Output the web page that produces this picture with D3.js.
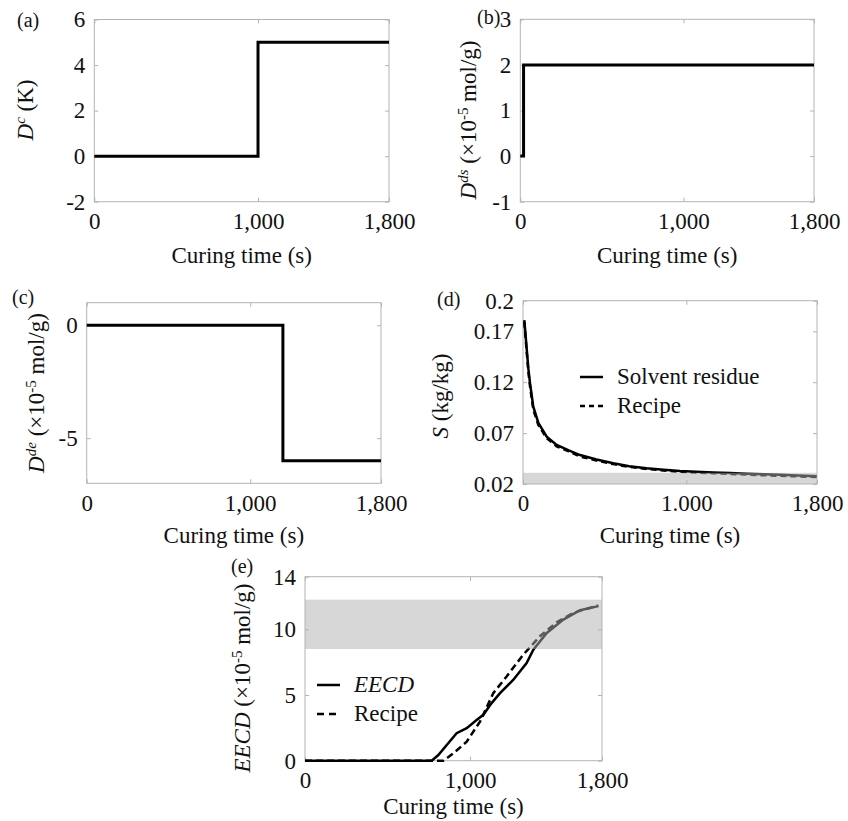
<!DOCTYPE html>
<html>
<head>
<meta charset="utf-8">
<script src="https://cdn.jsdelivr.net/npm/d3@7"></script>
<style>
  body { margin: 0; background: #fff; }
  svg { display: block; font-family: "Liberation Serif", "Times New Roman", serif; }
</style>
</head>
<body>
<script>
// ---- data ----
const xTicks = [0, 1000, 1800]
const xTickLabels = ['0', '1,000', '1,800']
const dXTickLabels = ['0', '1.000', '1,800']

// (a) D^c (K)
const aTime = [0, 1000, 1800]
const aValue = [0, 5, 5]
const aTicks = [-2, 0, 2, 4, 6]

// (b) D^ds
const bTime = [0, 20, 1800]
const bValue = [0, 2, 2]
const bTicks = [-1, 0, 1, 2, 3]

// (c) D^de
const cTime = [0, 1200, 1800]
const cValue = [0, -6, -6]
const cTicks = [-5, 0]

// (d) solvent residue
const dTime = [8, 15, 23, 33, 43, 63, 94, 145, 206, 280, 349, 450, 553, 650, 757, 860, 961, 1060, 1165, 1270, 1370, 1470, 1574, 1680, 1798]
const dSolvent = [0.181, 0.168, 0.152, 0.133, 0.119, 0.096, 0.080, 0.0664, 0.0583, 0.053, 0.0484, 0.044, 0.0403, 0.0375, 0.0354, 0.034, 0.0327, 0.032, 0.0314, 0.0307, 0.030, 0.0295, 0.029, 0.0284, 0.0277]
const dRecipe = [0.179, 0.165, 0.149, 0.130, 0.116, 0.093, 0.078, 0.065, 0.057, 0.052, 0.047, 0.043, 0.0395, 0.0368, 0.0348, 0.0333, 0.032, 0.0313, 0.0306, 0.0299, 0.0292, 0.0286, 0.028, 0.0275, 0.0268]
const dTicks = [0.02, 0.07, 0.12, 0.17, 0.2]
const dBand = [0.02, 0.031]

// (e) EECD
const eTime = [0, 768, 808, 859, 919, 980, 1040, 1081, 1131, 1182, 1263, 1343, 1384, 1465, 1566, 1667, 1778]
const eEecd = [0, 0, 0.43, 1.2, 2.09, 2.47, 3.1, 3.49, 4.38, 5.14, 6.16, 7.43, 8.45, 9.72, 10.74, 11.45, 11.76]
const eRecipeTime = [0, 838, 899, 980, 1061, 1141, 1222, 1323, 1424, 1525, 1626, 1778]
const eRecipe = [0, 0, 0.56, 1.45, 2.98, 5.14, 6.41, 8.07, 9.47, 10.53, 11.25, 11.81]
const eTicks = [0, 5, 10, 14]
const eBand = [8.5, 12.25]

const svg = d3.select('body').append('svg')
  .attr('width', 848)
  .attr('height', 821)

const frameColor = '#b4b4b4'

function makePanel (box, yDomain, yTicks, tickLabels) {
  const x = d3.scaleLinear().domain([0, 1800]).range([box.left, box.right])
  const y = d3.scaleLinear().domain(yDomain).range([box.bottom, box.top])
  const g = svg.append('g')

  g.append('rect')
    .attr('x', box.left)
    .attr('y', box.top)
    .attr('width', box.right - box.left)
    .attr('height', box.bottom - box.top)
    .attr('fill', 'none')
    .attr('stroke', frameColor)

  const axes = [
    [d3.axisBottom(x).tickValues(xTicks).tickFormat((d, i) => tickLabels[i]).tickPadding(11), `translate(0,${box.bottom})`],
    [d3.axisTop(x).tickValues(xTicks).tickFormat(''), `translate(0,${box.top})`],
    [d3.axisLeft(y).tickValues(yTicks).tickFormat(d => String(d)).tickPadding(9), `translate(${box.left},0)`],
    [d3.axisRight(y).tickValues(yTicks).tickFormat(''), `translate(${box.right},0)`]
  ]
  axes.forEach(([axis, tr]) => {
    const a = g.append('g')
      .attr('transform', tr)
      .call(axis.tickSizeInner(-4).tickSizeOuter(0))
    a.select('.domain').remove()
    a.selectAll('line').attr('stroke', frameColor)
    a.selectAll('text')
      .attr('font-family', '"Liberation Serif", "Times New Roman", serif')
      .attr('font-size', 23)
      .attr('fill', '#111')
  })
  return { g, x, y }
}

function addLine (p, xs, ys, opts) {
  const line = d3.line()
    .x((d, i) => p.x(xs[i]))
    .y(d => p.y(d))
  if (opts.step) line.curve(d3.curveStepAfter)
  p.g.append('path')
    .datum(ys)
    .attr('d', line)
    .attr('fill', 'none')
    .attr('stroke', '#000')
    .attr('stroke-width', opts.width || 3)
    .attr('stroke-dasharray', opts.dash || null)
}

function addBand (p, band) {
  p.g.append('rect')
    .attr('x', p.x(0))
    .attr('width', p.x(1800) - p.x(0))
    .attr('y', p.y(band[1]))
    .attr('height', p.y(band[0]) - p.y(band[1]))
    .attr('fill', 'rgb(176,176,176)')
    .attr('fill-opacity', 0.5)
}

function xTitle (p, baseline) {
  svg.append('text')
    .attr('x', (p.x(0) + p.x(1800)) / 2)
    .attr('y', baseline)
    .attr('text-anchor', 'middle')
    .attr('font-size', 23)
    .attr('fill', '#111')
    .text('Curing time (s)')
}

function yTitle (x, y, parts) {
  const t = svg.append('text')
    .attr('transform', `translate(${x},${y}) rotate(-90)`)
    .attr('text-anchor', 'middle')
    .attr('font-size', 23)
    .attr('fill', '#111')
  let raised = false
  parts.forEach(pt => {
    const s = t.append('tspan').text(pt.t)
    if (pt.it) s.attr('font-style', 'italic')
    if (pt.sup && !raised) { s.attr('dy', -8).attr('font-size', 15); raised = true }
    else if (pt.sup) s.attr('font-size', 15)
    else if (raised) { s.attr('dy', 8); raised = false }
  })
}

function panelTag (x, y, label) {
  svg.append('text')
    .attr('x', x)
    .attr('y', y)
    .attr('font-size', 20)
    .attr('fill', '#111')
    .text(label)
}

function legend (p, x, y, items) {
  items.forEach((it, i) => {
    const yy = y + i * 29
    p.g.append('line')
      .attr('x1', x).attr('x2', x + 23)
      .attr('y1', yy).attr('y2', yy)
      .attr('stroke', '#000')
      .attr('stroke-width', 2.5)
      .attr('stroke-dasharray', it.dash || null)
    p.g.append('text')
      .attr('x', x + 37)
      .attr('y', yy + 7)
      .attr('font-size', 23)
      .attr('font-style', it.it ? 'italic' : null)
      .attr('fill', '#111')
      .text(it.label)
  })
}

// (a)
const pa = makePanel({ left: 94.3, right: 389, top: 19.5, bottom: 201.7 }, [-2, 6], aTicks, xTickLabels)
addLine(pa, aTime, aValue, { step: true })
xTitle(pa, 263)
yTitle(33, 110, [{ t: 'D', it: true }, { t: 'c', it: true, sup: true }, { t: ' (K)' }])
panelTag(17, 27, '(a)')

// (b)
const pb = makePanel({ left: 520.3, right: 814, top: 19.3, bottom: 201.7 }, [-1, 3], bTicks, xTickLabels)
addLine(pb, bTime, bValue, { step: true })
xTitle(pb, 263)
yTitle(476, 120, [{ t: 'D', it: true }, { t: 'ds', it: true, sup: true }, { t: ' (×10' }, { t: '-5', sup: true }, { t: ' mol/g)' }])
panelTag(477, 24, '(b)')

// (c)
const pc = makePanel({ left: 86.7, right: 381, top: 302.7, bottom: 483.3 }, [-7, 1], cTicks, xTickLabels)
addLine(pc, cTime, cValue, { step: true })
xTitle(pc, 543)
yTitle(44, 393, [{ t: 'D', it: true }, { t: 'de', it: true, sup: true }, { t: ' (×10' }, { t: '-5', sup: true }, { t: ' mol/g)' }])
panelTag(12, 304, '(c)')

// (d)
const pd = makePanel({ left: 523, right: 817, top: 300.7, bottom: 484 }, [0.02, 0.2], dTicks, dXTickLabels)
addLine(pd, dTime, dSolvent, { width: 2.5 })
addLine(pd, dTime, dRecipe, { width: 2.5, dash: '6,4' })
addBand(pd, dBand)
legend(pd, 580, 377, [{ label: 'Solvent residue' }, { label: 'Recipe', dash: '5,4' }])
xTitle(pd, 543)
yTitle(448, 396, [{ t: 'S', it: true }, { t: ' (kg/kg)' }])
panelTag(437, 306, '(d)')

// (e)
const pe = makePanel({ left: 305, right: 602, top: 576.7, bottom: 760.7 }, [0, 14], eTicks, xTickLabels)
addLine(pe, eTime, eEecd, { width: 2.5 })
addLine(pe, eRecipeTime, eRecipe, { width: 2.5, dash: '7,4' })
addBand(pe, eBand)
legend(pe, 317, 685, [{ label: 'EECD', it: true }, { label: 'Recipe', dash: '7,5' }])
xTitle(pe, 814)
yTitle(250, 678, [{ t: 'EECD', it: true }, { t: ' (×10' }, { t: '-5', sup: true }, { t: ' mol/g)' }])
panelTag(231, 573, '(e)')
</script>
</body>
</html>
